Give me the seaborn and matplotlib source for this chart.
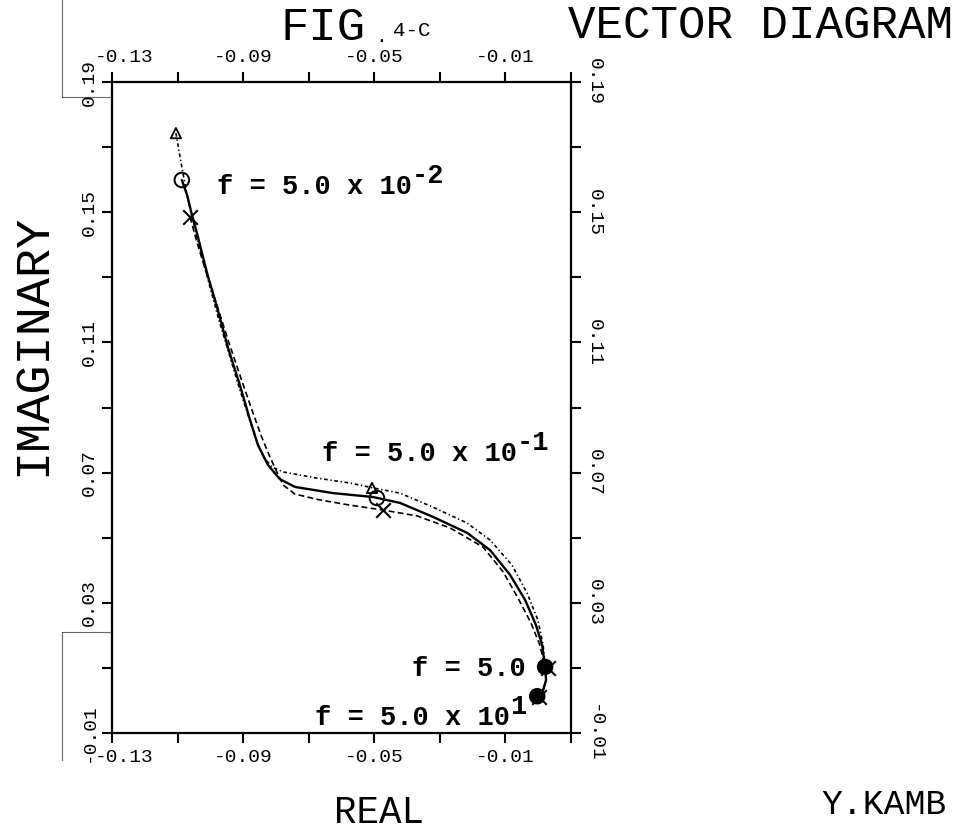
import numpy as np
import pandas as pd
import matplotlib
matplotlib.use("Agg")
import matplotlib.pyplot as plt
from matplotlib.lines import Line2D
from matplotlib.transforms import ScaledTranslation
import seaborn as sns

# ---------------- data ----------------
# solid curve (circle markers)
circ_re = [-0.1087, -0.1071, -0.1056, -0.1041, -0.1010, -0.0980, -0.0946, -0.0910,
           -0.0879, -0.0855, -0.0824, -0.0788, -0.0742, -0.0626, -0.0504, -0.0422,
           -0.0321, -0.0217, -0.0147, -0.0086, -0.0040, -0.0007, 0.0012, 0.0021,
           0.0024, 0.0015, -0.0001]
circ_im = [0.1599, 0.1553, 0.1491, 0.1436, 0.1313, 0.1209, 0.1083, 0.0969,
           0.0862, 0.0785, 0.0723, 0.0680, 0.0656, 0.0637, 0.0625, 0.0607,
           0.0564, 0.0515, 0.0462, 0.0386, 0.0309, 0.0232, 0.0170, 0.0103,
           0.0063, 0.0032, 0.0011]
# dotted / dash-dot curve (triangle markers)
tri_re = [-0.1105, -0.1096, -0.1087, -0.1074, -0.1059, -0.1035, -0.1007, -0.0974,
          -0.0940, -0.0910, -0.0882, -0.0858, -0.0836, -0.0812, -0.0778, -0.0675,
          -0.0574, -0.0504, -0.0422, -0.0321, -0.0217, -0.0147, -0.0080, -0.0034,
          -0.0001, 0.0015, 0.0021, 0.0024, 0.0015, -0.0001]
tri_im = [0.1743, 0.1691, 0.1639, 0.1568, 0.1498, 0.1399, 0.1292, 0.1169,
          0.1055, 0.0954, 0.0868, 0.0794, 0.0745, 0.0717, 0.0702, 0.0683,
          0.0668, 0.0653, 0.0637, 0.0594, 0.0545, 0.0493, 0.0416, 0.0330,
          0.0247, 0.0170, 0.0103, 0.0063, 0.0032, 0.0011]
# dashed curve (cross markers)
crs_re = [-0.1062, -0.1041, -0.1013, -0.0980, -0.0943, -0.0907, -0.0873, -0.0846,
          -0.0821, -0.0800, -0.0778, -0.0742, -0.0666, -0.0574, -0.0473, -0.0370,
          -0.0269, -0.0168, -0.0107, -0.0062, -0.0022, 0.0005, 0.0021, 0.0024,
          0.0015, -0.0001]
crs_im = [0.1485, 0.1408, 0.1316, 0.1215, 0.1098, 0.0991, 0.0892, 0.0816,
          0.0754, 0.0708, 0.0662, 0.0634, 0.0616, 0.0600, 0.0585, 0.0567,
          0.0530, 0.0471, 0.0395, 0.0315, 0.0238, 0.0170, 0.0103, 0.0063,
          0.0032, 0.0011]

# markers at f = 5e-2, 5e-1, 5e0, 5e1
freqs = ["5.0 x 10^-2", "5.0 x 10^-1", "5.0", "5.0 x 10^1"]
circ_mark_re = [-0.1087, -0.0492, 0.0021, -0.0003]
circ_mark_im = [0.1599, 0.0622, 0.0103, 0.0013]
tri_mark_re = [-0.1105, -0.0507, 0.0022, -0.0001]
tri_mark_im = [0.1743, 0.0653, 0.0108, 0.0015]
crs_mark_re = [-0.1062, -0.0473, 0.0030, 0.0001]
crs_mark_im = [0.1485, 0.0585, 0.0100, 0.0010]
circ_fill = ["none", "none", "black", "black"]

# axes ticks
x_ticks = [-0.13, -0.11, -0.09, -0.07, -0.05, -0.03, -0.01, 0.01]
x_tick_labels = ["-0.13", "", "-0.09", "", "-0.05", "", "-0.01", ""]
y_ticks = [-0.01, 0.01, 0.03, 0.05, 0.07, 0.09, 0.11, 0.13, 0.15, 0.17, 0.19]
y_tick_labels = ["-0.01", "", "0.03", "", "0.07", "", "0.11", "", "0.15", "", "0.19"]

# ---------------- style ----------------
sns.set_theme(style="ticks")
plt.rcParams["font.family"] = ["Liberation Mono", "DejaVu Sans"]
plt.rcParams["axes.linewidth"] = 1.5

W, H = 962, 835
fig = plt.figure(figsize=(W / 100, H / 100), dpi=100)
fig.patch.set_facecolor("white")
ax = fig.add_axes([112 / W, 1 - 733 / H, (571 - 112) / W, (733 - 82) / H])
ax.set_facecolor("white")

frames = []
for name, xs, ys in [("circle", circ_re, circ_im), ("triangle", tri_re, tri_im),
                     ("cross", crs_re, crs_im)]:
    frames.append(pd.DataFrame({"re": xs, "im": ys, "series": name}))
df = pd.concat(frames, ignore_index=True)

sns.lineplot(data=df, x="re", y="im", hue="series", style="series",
             palette={"circle": "black", "triangle": "black", "cross": "black"},
             dashes={"circle": "", "triangle": (2.2, 1.6, 0.8, 1.6), "cross": (3.5, 2.0)},
             sort=False, estimator=None, legend=False, linewidth=1.2, ax=ax)
ax.lines[0].set_linewidth(1.7)

sns.scatterplot(x=tri_mark_re, y=tri_mark_im, marker="^", s=55, facecolor="none",
                edgecolor="black", linewidth=1.3, ax=ax, zorder=5)
ax.scatter(circ_mark_re, circ_mark_im, marker="o", s=110, facecolors=circ_fill,
           edgecolors="black", linewidths=1.4, zorder=5)
sns.scatterplot(x=crs_mark_re, y=crs_mark_im, marker="x", s=110, color="black",
                linewidth=1.5, ax=ax, zorder=5)

ax.set_xlim(-0.13, 0.01)
ax.set_ylim(-0.01, 0.19)
ax.set_xticks(x_ticks)
ax.set_xticklabels(x_tick_labels)
ax.set_yticks(y_ticks)
ax.set_yticklabels(y_tick_labels)
ax.set_xlabel("")
ax.set_ylabel("")
for s in ax.spines.values():
    s.set_visible(True)
    s.set_color("black")
    s.set_linewidth(1.6)
ax.tick_params(axis="both", which="major", direction="out", length=7.5, width=1.5,
               colors="black", labelsize=14, top=True, right=True,
               labeltop=True, labelright=True)
ax.tick_params(axis="x", pad=4)
ax.tick_params(axis="y", pad=3)
for t in ax.yaxis.get_major_ticks():
    t.label1.set_rotation(90)
    t.label1.set_va("center")
    t.label2.set_rotation(270)
    t.label2.set_va("center")
# the corner label -0.13 sits a little to the right of its tick
first = ax.xaxis.get_major_ticks()[0]
shift = ScaledTranslation(12 / 100, 0, fig.dpi_scale_trans)
first.label1.set_transform(first.label1.get_transform() + shift)
first.label2.set_transform(first.label2.get_transform() + shift)

# frequency annotations
lab_font = dict(family=["Liberation Mono", "DejaVu Sans"], fontweight="bold",
                fontsize=19.5, color="black")
ann = [((-0.0980, 0.1556), "f = 5.0 x 10", "-2"),
       ((-0.0659, 0.0736), "f = 5.0 x 10", "-1"),
       ((-0.0385, 0.0075), "f = 5.0", None),
       ((-0.0681, -0.0075), "f = 5.0 x 10", "1")]
for (xx, yy), txt, sup in ann:
    t = ax.text(xx, yy, txt, ha="left", va="baseline", **lab_font)
    if sup:
        ax.annotate(sup, xy=(1.0, 0.5), xycoords=t, xytext=(0, 8),
                    textcoords="offset points", ha="left", va="center", **lab_font)

# titles / axis names (figure pixel positions)
def ftext(px, py, s, size, **kw):
    fig.text(px / W, 1 - py / H, s, fontsize=size, ha="center", va="center",
             family=["Liberation Mono", "DejaVu Sans"], color="black", **kw)

ftext(323, 28, "FIG", 34)
ftext(381, 37, ".", 14)
ftext(412, 30, "4-C", 15)
ftext(760, 26, "VECTOR DIAGRAM", 33)
ftext(379, 813, "REAL", 27)
ftext(884, 805, "Y.KAMB", 25)
ftext(33, 345, "IMAGINARY", 35, rotation=90)

# scanning artefacts at the left margin
for (x0, y0, x1, y1) in [(62, 0, 62, 97), (62, 97, 110, 97),
                         (62, 632, 110, 632), (62, 632, 62, 760)]:
    fig.add_artist(Line2D([x0 / W, x1 / W], [1 - y0 / H, 1 - y1 / H],
                          transform=fig.transFigure, color="black", lw=0.8,
                          alpha=0.6))

fig.savefig("out.png", dpi=100, facecolor="white")
